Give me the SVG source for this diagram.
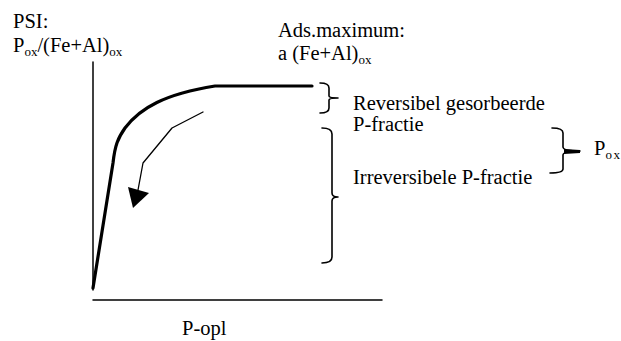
<svg xmlns="http://www.w3.org/2000/svg" width="621" height="341" viewBox="0 0 621 341">
<style>
text{font-family:"Liberation Serif","Times New Roman",serif;font-size:20.5px;fill:#000}
.sub{font-size:13px}
.ln{fill:none;stroke:#000;stroke-linecap:round;stroke-linejoin:round}
</style>
<rect width="621" height="341" fill="#fff"/>
<g id="axes">
<line class="ln" x1="93" y1="62" x2="93" y2="290" stroke-width="1.5"/>
<line class="ln" x1="93" y1="300" x2="382" y2="300" stroke-width="1.5"/>
</g>
<g id="curve">
<path class="ln" stroke-width="3.2" d="M93,288 L113,163 C115,145 118,138 125,128 C140,108 165,94 215,86 L312,86"/>
</g>
<g id="connectors">
<polyline class="ln" stroke-width="1.3" points="203,112 172,128 143,163 138,190"/>
<polygon points="128,187 149,193 133,208" fill="#000"/>
</g>
<g id="label-psi">
<text x="13" y="28">PSI:</text>
<text x="13" y="52">P<tspan class="sub" dy="4">ox</tspan><tspan dy="-4">/(Fe+Al)</tspan><tspan class="sub" dy="4">ox</tspan></text>
</g>
<g id="label-ads">
<text x="278" y="37">Ads.maximum:</text>
<text x="278" y="60">a (Fe+Al)<tspan class="sub" dy="4">ox</tspan></text>
</g>
<g id="label-popl">
<text x="182" y="335">P-opl</text>
</g>
<g id="brace-rev">
<path class="ln" stroke-width="1.6" d="M320,83 Q329,83 329,88 L329,96 Q329,98 338,98 Q329,98 329,100 L329,108 Q329,113 320,113"/>
<text x="353" y="110">Reversibel gesorbeerde</text>
<text x="353" y="131">P-fractie</text>
</g>
<g id="brace-irr">
<path class="ln" stroke-width="1.6" d="M322,128 Q332,128 332,134 L332,193 Q332,197 338,197 Q332,197 332,201 L332,257 Q332,263 322,263"/>
<text x="353" y="184">Irreversibele P-fractie</text>
</g>
<g id="brace-pox">
<path class="ln" stroke-width="1.6" d="M552,128 Q563,128 563,133 L563,147 Q563,151 580,151 Q563,151 563,155 L563,169 Q563,173 550,173"/>
<path d="M564,149 L580,150 L580,153 L564,154 Z" fill="#000"/>
<text x="594" y="155">P<tspan class="sub" dy="4" letter-spacing="1.5">ox</tspan></text>
</g>
</svg>
